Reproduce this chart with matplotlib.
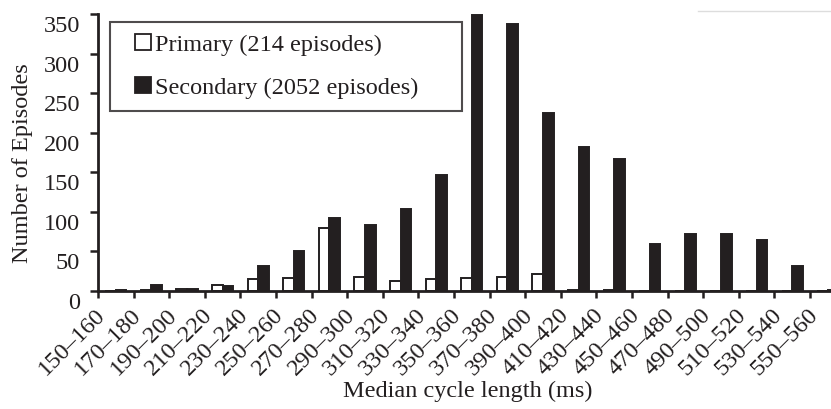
import numpy as np
import matplotlib.pyplot as plt
from matplotlib.lines import Line2D
from matplotlib.transforms import ScaledTranslation

plt.rcParams['font.family'] = ['Liberation Serif', 'DejaVu Serif']

# Median cycle length bins (ms)
bins = ['150–160', '170–180', '190–200', '210–220', '230–240', '250–260',
        '270–280', '290–300', '310–320', '330–340', '350–360', '370–380',
        '390–400', '410–420', '430–440', '450–460', '470–480', '490–500',
        '510–520', '530–540', '550–560']

# Episode counts
primary = [0, 1, 3, 7, 15, 17, 79, 18, 13, 15, 17, 18, 22, 1, 1, 0, 0, 0, 0, 0, 0]
secondary = [1, 8, 2, 6, 32, 50, 92, 84, 104, 146, 349, 337, 225, 182, 167,
             59, 72, 72, 65, 32, 1]

ink = '#231f20'
fs = 17.5
x = np.arange(len(bins))
w = 0.3

fig = plt.figure(figsize=(8.31, 4.09), dpi=100)
# axes runs off the right edge, like the cropped original
ax = fig.add_axes([98 / 831, 118 / 409, 747.6 / 831, 277 / 409])

ax.bar(x - w / 2, primary, w, color='white', edgecolor=ink, linewidth=1.4)
ax.bar(x + w / 2, secondary, w, color=ink, edgecolor=ink, linewidth=1.4)

ax.set_xlim(-0.5, len(bins) - 0.5)
ax.set_ylim(0, 350)
ax.set_yticks(np.arange(0, 351, 50))

# ticks at group boundaries, labels at group centres
ax.set_xticks(np.arange(len(bins) + 1) - 0.5)
ax.set_xticklabels([])
ax.set_xticks(x, minor=True)
ax.set_xticklabels(bins, minor=True, rotation=45, ha='right',
                   fontsize=fs, color=ink)
ax.tick_params(axis='x', which='minor', length=0, pad=10)
ax.tick_params(axis='x', which='major', length=5, width=1.8, color=ink)
ax.tick_params(axis='y', length=6, width=1.8, color=ink, labelsize=fs,
               labelcolor=ink, pad=7)

# the original's labels sit a little off their ticks
for lab in ax.get_xticklabels(minor=True):
    lab.set_transform(lab.get_transform() +
                      ScaledTranslation(-0.06, 0, fig.dpi_scale_trans))
for lab in ax.get_yticklabels():
    lab.set_transform(lab.get_transform() +
                      ScaledTranslation(0, -0.10, fig.dpi_scale_trans))

for s in ['top', 'right']:
    ax.spines[s].set_visible(False)
for s in ['left', 'bottom']:
    ax.spines[s].set_linewidth(2)
    ax.spines[s].set_color(ink)

ax.set_ylabel('Number of Episodes', fontsize=fs, color=ink)
ax.yaxis.set_label_coords((33 - 98) / 747.6, (291 - 163) / 277)
fig.text(468 / 831, 1 - 391 / 409, 'Median cycle length (ms)', fontsize=fs,
         color=ink, ha='center', va='center')

handles = [
    Line2D([], [], marker='s', markersize=11, markerfacecolor='white',
           markeredgecolor=ink, markeredgewidth=1.3, linestyle='none'),
    Line2D([], [], marker='s', markersize=11, markerfacecolor=ink,
           markeredgecolor=ink, markeredgewidth=1.3, linestyle='none'),
]
leg = ax.legend(handles, ['Primary (214 episodes)', 'Secondary (2052 episodes)'],
                loc='upper left', mode='expand',
                bbox_to_anchor=(0.016, 0.65, 0.471, 0.322),
                fontsize=fs, frameon=True, fancybox=False, handlelength=1.7,
                handletextpad=-0.34, labelspacing=0.86, borderpad=0.5,
                borderaxespad=0)
leg.get_frame().set_edgecolor(ink)
leg.get_frame().set_linewidth(1.5)
for t in leg.get_texts():
    t.set_color(ink)

# faint scan line at the top right
fig.add_artist(Line2D([698 / 831, 1], [1 - 11 / 409, 1 - 11 / 409],
                      color='#dddddd', linewidth=1))

fig.savefig('out.png', dpi=100)
